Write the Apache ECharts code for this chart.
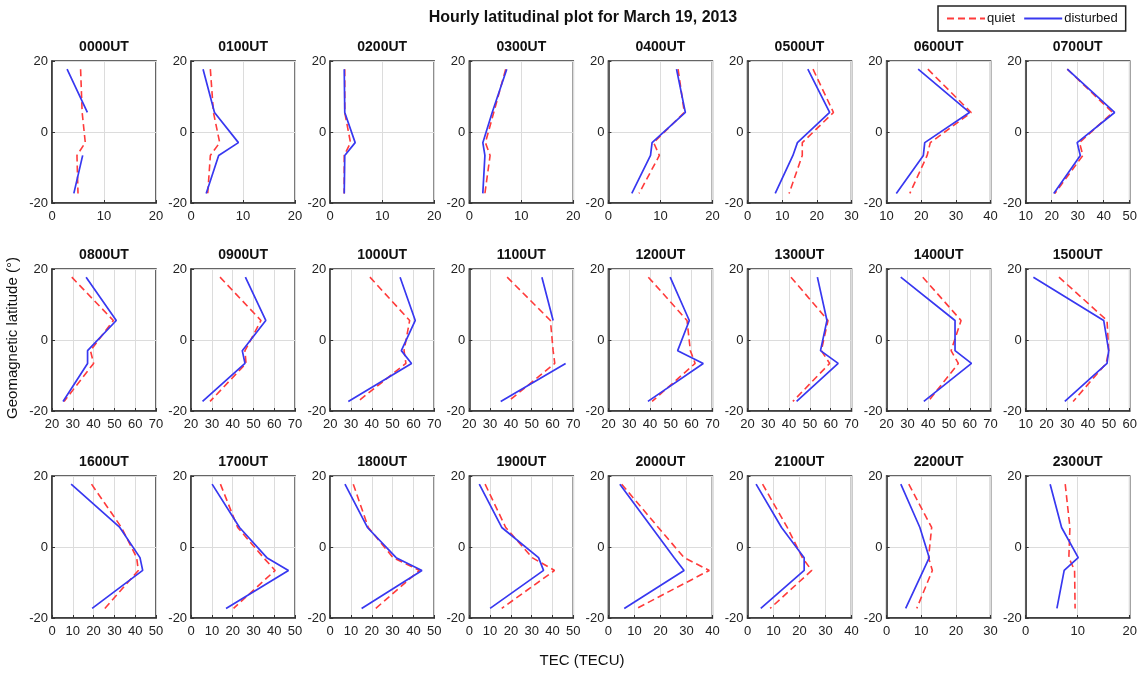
<!DOCTYPE html>
<html>
<head>
<meta charset="utf-8">
<script src="https://cdn.jsdelivr.net/npm/echarts@6/dist/echarts.min.js"></script>
<style>
html, body { margin: 0; padding: 0; background: #fff; }
#chart { width: 1145px; height: 673px; }
</style>
</head>
<body>
<div id="chart"></div>
<script>
// panel hours (UT) and the geomagnetic latitudes of the stations
const hours = ['0000', '0100', '0200', '0300', '0400', '0500', '0600', '0700',
  '0800', '0900', '1000', '1100', '1200', '1300', '1400', '1500',
  '1600', '1700', '1800', '1900', '2000', '2100', '2200', '2300']
const lat = [17.7, 5.5, -3, -6.6, -17.3]

// x range (TEC) of each panel
const xMin = [0, 0, 0, 0, 0, 0, 10, 10, 20, 20, 20, 20, 20, 20, 20, 10, 0, 0, 0, 0, 0, 0, 0, 0]
const xMax = [20, 20, 20, 20, 20, 30, 40, 50, 70, 70, 70, 70, 70, 70, 70, 60, 50, 50, 50, 50, 40, 40, 30, 20]
const yTicks = [-20, 20]

// TEC per latitude (same order as lat)
const quiet = [
  [5.5, 5.8, 6.4, 4.8, 5.0],
  [3.7, 4.3, 5.5, 3.7, 3.2],
  [2.8, 2.8, 3.9, 2.7, 2.7],
  [7.0, 4.7, 3.1, 4.0, 3.0],
  [13.4, 14.6, 8.7, 9.8, 5.9],
  [18.9, 24.8, 15.8, 15.8, 12.0],
  [21.9, 34.4, 22.6, 21.7, 16.7],
  [26.0, 43.4, 30.7, 32.0, 21.2],
  [29.5, 49.5, 38.5, 40.0, 25.8],
  [33.9, 53.6, 45.9, 46.4, 29.1],
  [39.1, 58.2, 55.5, 56.4, 33.3],
  [38.2, 59.0, 60.3, 61.1, 38.7],
  [39.2, 57.8, 59.4, 61.7, 41.0],
  [40.9, 58.7, 55.5, 59.5, 41.8],
  [37.4, 55.8, 51.0, 54.5, 40.0],
  [26.0, 49.1, 49.9, 48.7, 32.8],
  [19.0, 33.4, 40.7, 41.5, 25.4],
  [14.1, 22.4, 34.8, 40.4, 20.4],
  [11.1, 18.3, 30.2, 42.9, 21.9],
  [7.6, 17.5, 30.2, 41.0, 15.6],
  [5.1, 19.2, 29.1, 38.8, 10.9],
  [5.8, 15.3, 21.1, 24.7, 8.7],
  [6.4, 13.0, 12.1, 13.2, 8.7],
  [7.6, 8.5, 8.3, 9.4, 9.5]
]
const disturbed = [
  [2.9, 6.8, null, 5.9, 4.2],
  [2.3, 4.5, 9.1, 5.3, 2.9],
  [2.7, 2.8, 4.8, 2.8, 2.7],
  [7.2, 4.4, 2.6, 3.0, 2.6],
  [13.1, 14.8, 8.4, 8.1, 4.5],
  [17.4, 23.7, 14.4, 13.1, 8.0],
  [19.1, 33.9, 21.0, 20.6, 12.8],
  [26.0, 44.2, 29.8, 31.0, 20.8],
  [36.4, 50.9, 37.1, 37.1, 25.3],
  [46.1, 55.9, 44.6, 45.9, 25.5],
  [53.6, 60.9, 54.2, 59.1, 28.7],
  [54.9, 60.3, null, 66.3, 35.1],
  [49.7, 58.9, 53.3, 65.6, 39.0],
  [53.6, 58.2, 55.1, 63.6, 43.6],
  [26.8, 52.9, 52.9, 60.8, 37.9],
  [13.7, 47.5, 49.9, 49.1, 28.8],
  [9.2, 32.6, 42.3, 43.6, 19.3],
  [10.1, 23.3, 36.4, 46.8, 16.8],
  [7.1, 17.9, 31.7, 44.1, 15.1],
  [4.8, 15.6, 33.3, 35.7, 10.0],
  [4.4, 16.7, 25.3, 29.1, 6.1],
  [3.3, 13.1, 21.8, 21.8, 5.1],
  [4.1, 9.6, 12.3, 10.6, 5.5],
  [4.7, 6.9, 10.1, 7.4, 6.0]
]

const chart = echarts.init(document.getElementById('chart'))

const FONT = '"Liberation Sans", Arial, sans-serif'
const rowTop = [61, 269, 476]
const boxW = 104
const boxH = 142
const colLeft = c => 52 + c * 139.1

let grids = [], xAxes = [], yAxes = [], series = [], graphics = []

hours.forEach((h, i) => {
  let r = Math.floor(i / 8), c = i % 8
  let left = colLeft(c), top = rowTop[r]
  grids.push({
    left: left, top: top, width: boxW, height: boxH,
    show: true, borderColor: '#333', borderWidth: 1.5, backgroundColor: '#fff'
  })
  xAxes.push({
    type: 'value', gridIndex: i, min: xMin[i], max: xMax[i], interval: 10,
    axisLine: { show: true, onZero: false, lineStyle: { color: '#333', width: 1.5 } },
    axisTick: { show: true, inside: true, length: 3, lineStyle: { color: '#333' } },
    axisLabel: { fontFamily: FONT, fontSize: 13, color: '#222', margin: 7 },
    splitLine: { show: true, lineStyle: { color: '#dcdcdc', width: 1 } }
  })
  yAxes.push({
    type: 'value', gridIndex: i, min: yTicks[0], max: yTicks[1], interval: 20,
    axisLine: { show: true, onZero: false, lineStyle: { color: '#333', width: 1.5 } },
    axisTick: { show: true, inside: true, length: 3, lineStyle: { color: '#333' } },
    axisLabel: { fontFamily: FONT, fontSize: 13, color: '#222', margin: 4 },
    splitLine: { show: true, lineStyle: { color: '#dcdcdc', width: 1 } }
  })
  series.push({
    name: 'quiet', type: 'line', xAxisIndex: i, yAxisIndex: i,
    data: lat.map((y, k) => [quiet[i][k], y]),
    showSymbol: false, symbol: 'none', silent: true,
    color: '#ff3b3b',
    lineStyle: { color: '#ff3b3b', width: 1.6, type: [7, 4] }
  })
  series.push({
    name: 'disturbed', type: 'line', xAxisIndex: i, yAxisIndex: i,
    data: lat.map((y, k) => [disturbed[i][k], y]),
    showSymbol: false, symbol: 'none', silent: true,
    color: '#3838f0',
    lineStyle: { color: '#3838f0', width: 1.7 }
  })
  graphics.push({
    type: 'text', x: left + boxW / 2, y: top - 7,
    style: {
      text: h + 'UT', fill: '#111', align: 'center', verticalAlign: 'bottom',
      font: 'bold 14px ' + FONT
    }
  })
})

graphics.push({
  type: 'text', x: 583, y: 18,
  style: {
    text: 'Hourly latitudinal plot for March 19, 2013', fill: '#111',
    align: 'center', verticalAlign: 'middle', font: 'bold 16px ' + FONT
  }
})
graphics.push({
  type: 'text', x: 582, y: 661,
  style: {
    text: 'TEC (TECU)', fill: '#111', align: 'center', verticalAlign: 'middle',
    font: '15px ' + FONT
  }
})
graphics.push({
  type: 'text', x: 13, y: 338, rotation: Math.PI / 2,
  style: {
    text: 'Geomagnetic latitude (°)', fill: '#111', align: 'center', verticalAlign: 'middle',
    font: '15px ' + FONT
  }
})

chart.setOption({
  animation: false,
  backgroundColor: '#fff',
  legend: {
    data: ['quiet', 'disturbed'],
    left: 938, top: 6,
    padding: [6, 8],
    itemWidth: 38, itemHeight: 10, itemGap: 8,
    itemStyle: { opacity: 0 },
    borderColor: '#222', borderWidth: 1.5,
    textStyle: { fontFamily: FONT, fontSize: 13, color: '#111', padding: [0, 0, 0, -3] }
  },
  grid: grids,
  xAxis: xAxes,
  yAxis: yAxes,
  series: series,
  graphic: graphics
})
</script>
</body>
</html>
